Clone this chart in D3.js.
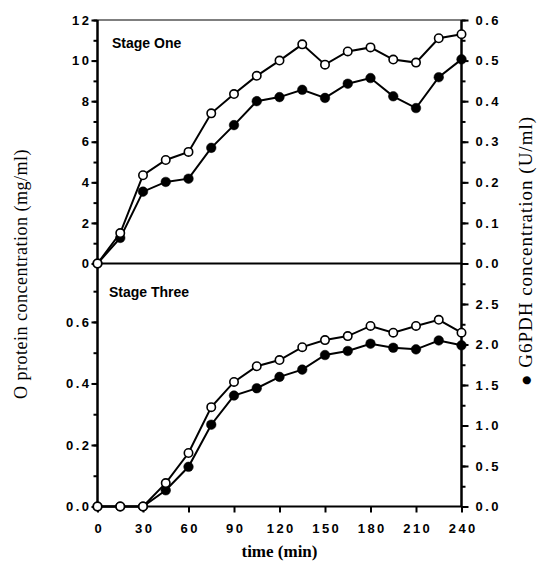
<!DOCTYPE html>
<html>
<head>
<meta charset="utf-8">
<script src="https://cdn.jsdelivr.net/npm/d3@7"></script>
<style>
  body { margin: 0; background: #fff; }
  .tick text { font-family: "Liberation Sans", Arial, sans-serif; font-weight: bold; font-size: 13px; letter-spacing: 2.5px; fill: #000; }
  .tick line { stroke: #000; stroke-width: 2px; }
  .domain { display: none; }
</style>
</head>
<body>
<div id="chart"></div>
<script>
// time points (min)
var times = [0, 15, 30, 45, 60, 75, 90, 105, 120, 135, 150, 165, 180, 195, 210, 225, 240];

// Stage One
var oneProtein = [0, 1.5, 4.35, 5.1, 5.5, 7.4, 8.35, 9.25, 10.0, 10.8, 9.8, 10.45, 10.65, 10.05, 9.9, 11.1, 11.3];
var oneG6pdh = [0, 0.063, 0.177, 0.201, 0.209, 0.285, 0.341, 0.400, 0.410, 0.428, 0.408, 0.443, 0.457, 0.412, 0.383, 0.459, 0.503];

// Stage Three
var threeProtein = [0, 0, 0, 0.076, 0.174, 0.323, 0.405, 0.456, 0.476, 0.518, 0.541, 0.554, 0.587, 0.565, 0.587, 0.607, 0.565];
var threeG6pdh = [0, 0, 0, 0.2, 0.49, 1.01, 1.37, 1.46, 1.6, 1.69, 1.87, 1.92, 2.01, 1.96, 1.94, 2.05, 1.99];

var xTicks = [0, 30, 60, 90, 120, 150, 180, 210, 240];
var oneLeftTicks = [0, 2, 4, 6, 8, 10, 12];
var oneRightTicks = [0.0, 0.1, 0.2, 0.3, 0.4, 0.5, 0.6];
var threeLeftTicks = [0.0, 0.2, 0.4, 0.6];
var threeRightTicks = [0.0, 0.5, 1.0, 1.5, 2.0, 2.5];

var width = 538, height = 566;
var pLeft = 97.5, pRight = 461.5, pTop = 20, pMid = 263.5, pBot = 506.5;

var svg = d3.select('#chart')
  .append('svg')
  .attr('width', width)
  .attr('height', height);

var x = d3.scaleLinear().domain([0, 240]).range([pLeft, pRight]);
var yOneL = d3.scaleLinear().domain([0, 12]).range([pMid, pTop]);
var yOneR = d3.scaleLinear().domain([0, 0.6]).range([pMid, pTop]);
var yThreeL = d3.scaleLinear().domain([0, 0.79]).range([pBot, pMid]);
var yThreeR = d3.scaleLinear().domain([0, 3.0]).range([pBot, pMid]);

function minorTicks(scale, step) {
  var d = scale.domain(), out = [];
  for (var v = d[0]; v <= d[1] + 1e-9; v += step) out.push(+v.toFixed(4));
  return out;
}

// left axes: minor ticks first, then labelled ones
function leftAxis(scale, ticks, fmt, minorStep) {
  svg.append('g').attr('transform', 'translate(' + pLeft + ',0)')
    .call(d3.axisLeft(scale).tickValues(minorTicks(scale, minorStep)).tickSize(4).tickFormat(''));
  var gm = svg.append('g').attr('transform', 'translate(' + pLeft + ',0)')
    .call(d3.axisLeft(scale).tickValues(ticks).tickSize(6).tickPadding(0).tickFormat(fmt));
  return gm;
}
function rightAxis(scale, ticks, fmt, minorStep) {
  svg.append('g').attr('transform', 'translate(' + pRight + ',0)')
    .call(d3.axisRight(scale).tickValues(minorTicks(scale, minorStep)).tickSize(4).tickFormat(''));
  var gm = svg.append('g').attr('transform', 'translate(' + pRight + ',0)')
    .call(d3.axisRight(scale).tickValues(ticks).tickSize(7).tickPadding(7).tickFormat(fmt));
  return gm;
}

leftAxis(yOneL, oneLeftTicks, d3.format('d'), 1);
rightAxis(yOneR, oneRightTicks, d3.format('.1f'), 0.05);
leftAxis(yThreeL, threeLeftTicks, d3.format('.1f'), 0.1);
rightAxis(yThreeR, threeRightTicks, d3.format('.1f'), 0.25);

// x axis
var xg = svg.append('g').attr('transform', 'translate(0,' + pBot + ')');
xg.call(d3.axisBottom(x).tickValues(xTicks).tickSize(6).tickPadding(11));
xg.selectAll('text').attr('dx', '1.25px');

// frame
var frame = svg.append('g').attr('stroke', '#000').attr('fill', 'none');
frame.append('line').attr('x1', pLeft).attr('x2', pRight).attr('y1', pTop).attr('y2', pTop).attr('stroke-width', 1.2);
frame.append('line').attr('x1', pLeft).attr('x2', pRight).attr('y1', pMid).attr('y2', pMid).attr('stroke-width', 2);
frame.append('line').attr('x1', pLeft).attr('x2', pRight).attr('y1', pBot).attr('y2', pBot).attr('stroke-width', 2);
frame.append('line').attr('x1', pLeft).attr('x2', pLeft).attr('y1', pTop).attr('y2', pBot).attr('stroke-width', 2.5);
frame.append('line').attr('x1', pRight).attr('x2', pRight).attr('y1', pTop).attr('y2', pBot).attr('stroke-width', 2.5);

// series
function series(vals, yScale, filled) {
  var pts = times.map(function (t, i) { return [t, vals[i]]; });
  var line = d3.line()
    .x(function (d) { return x(d[0]); })
    .y(function (d) { return yScale(d[1]); });
  svg.append('path')
    .datum(pts)
    .attr('d', line)
    .attr('fill', 'none')
    .attr('stroke', '#000')
    .attr('stroke-width', 2);
  svg.append('g').selectAll('circle')
    .data(pts)
    .enter()
    .append('circle')
    .attr('cx', function (d) { return x(d[0]); })
    .attr('cy', function (d) { return yScale(d[1]); })
    .attr('r', filled ? 4.8 : 4.2)
    .attr('fill', filled ? '#000' : '#fff')
    .attr('stroke', '#000')
    .attr('stroke-width', filled ? 0.5 : 1.6);
}

series(oneG6pdh, yOneR, true);
series(oneProtein, yOneL, false);
series(threeG6pdh, yThreeR, true);
series(threeProtein, yThreeL, false);

// stage labels
svg.append('text')
  .attr('x', 112).attr('y', 48)
  .style('font-family', '"Liberation Sans", Arial, sans-serif')
  .style('font-weight', 'bold').style('font-size', '14px')
  .text('Stage One');
svg.append('text')
  .attr('x', 109).attr('y', 297)
  .style('font-family', '"Liberation Sans", Arial, sans-serif')
  .style('font-weight', 'bold').style('font-size', '14px')
  .text('Stage Three');

// axis titles
svg.append('text')
  .attr('x', (pLeft + pRight) / 2).attr('y', 557)
  .attr('text-anchor', 'middle')
  .style('font-family', '"Liberation Serif", "Times New Roman", serif')
  .style('font-weight', 'bold').style('font-size', '17px')
  .text('time (min)');

svg.append('text')
  .attr('transform', 'translate(27,274) rotate(-90)')
  .attr('text-anchor', 'middle')
  .style('font-family', '"Liberation Serif", "Times New Roman", serif')
  .style('font-size', '18px').style('letter-spacing', '0.5px')
  .text('O protein concentration (mg/ml)');

svg.append('text')
  .attr('transform', 'translate(532,251) rotate(-90)')
  .attr('text-anchor', 'middle')
  .style('font-family', '"Liberation Serif", "Times New Roman", serif')
  .style('font-size', '19px').style('letter-spacing', '1px')
  .text('\u25CF G6PDH concentration (U/ml)');
</script>
</body>
</html>
